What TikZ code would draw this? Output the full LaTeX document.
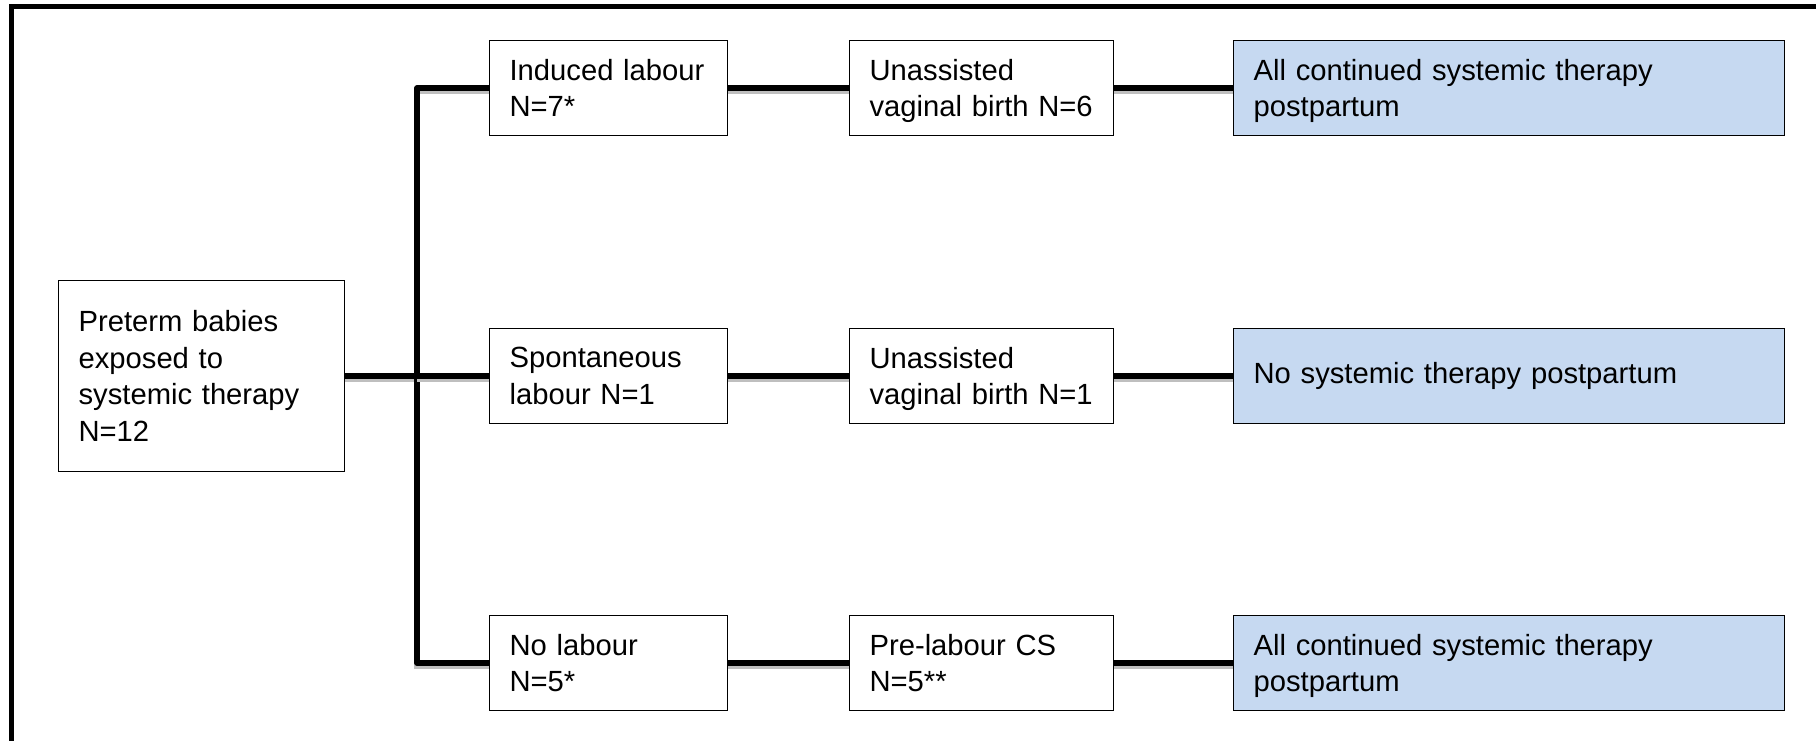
\documentclass[tikz,border=0pt]{standalone}
\usepackage{fontspec}
\setmainfont{Liberation Sans}
\usetikzlibrary{positioning}

\definecolor{outblue}{RGB}{198,217,241}
% last line of a box: keep its descenders out of the centring
\newcommand{\nodesc}[1]{\raisebox{0pt}[\height][0pt]{#1}}
\tikzset{
  box/.style={draw, line width=0.6pt, rectangle, anchor=west, align=left,
    inner xsep=10pt, inner ysep=0pt, minimum height=47.5pt, fill=white},
  labourbox/.style={box, text width=99pt},
  birthbox/.style={box, text width=112pt},
  outbox/.style={box, fill=outblue, text width=255.5pt},
  link/.style={line width=2.8pt, line join=round,
    preaction={draw=black!25, line width=2.8pt, transform canvas={yshift=-1.5pt}}},
}

\begin{document}
\begin{tikzpicture}[x=0.5pt,y=-0.5pt]
  \fontsize{14.6}{18.4}\selectfont
  \useasboundingbox (0,0) rectangle (1816,741);
  % frame
  \draw[line width=2.8pt] (1816,6.5) -- (11.5,6.5) -- (11.5,741);
  %
  \node[box, text width=123pt, minimum height=95.5pt] (root) at (58,376)
    {Preterm babies\\exposed to\\systemic therapy\\N=12};
  \coordinate (split) at (417,376);
  %
  \node[labourbox] (ind) at (489,88) {Induced labour\\N=7*};
  \node[labourbox] (spo) at (489,376) {Spontaneous\\labour N=1};
  \node[labourbox] (nol) at (489,663) {No labour\\N=5*};
  %
  \node[birthbox] (vb6) at (849,88) {Unassisted\\\nodesc{vaginal birth N=6}};
  \node[birthbox] (vb1) at (849,376) {Unassisted\\\nodesc{vaginal birth N=1}};
  \node[birthbox] (pcs) at (849,663) {Pre-labour CS\\N=5**};
  %
  \node[outbox] (all1) at (1233,88) {All continued systemic therapy\\\nodesc{postpartum}};
  \node[outbox] (none) at (1233,376) {No systemic therapy postpartum};
  \node[outbox] (all2) at (1233,663) {All continued systemic therapy\\\nodesc{postpartum}};
  %
  \draw[link] (root) -- (split);
  \draw[link] (ind.west) -| (split) |- (nol.west);
  \draw[link] (split) -- (spo);
  \foreach \a/\b in {ind/vb6,spo/vb1,nol/pcs,vb6/all1,vb1/none,pcs/all2}{
    \draw[link] (\a) -- (\b);
  }
\end{tikzpicture}
\end{document}
